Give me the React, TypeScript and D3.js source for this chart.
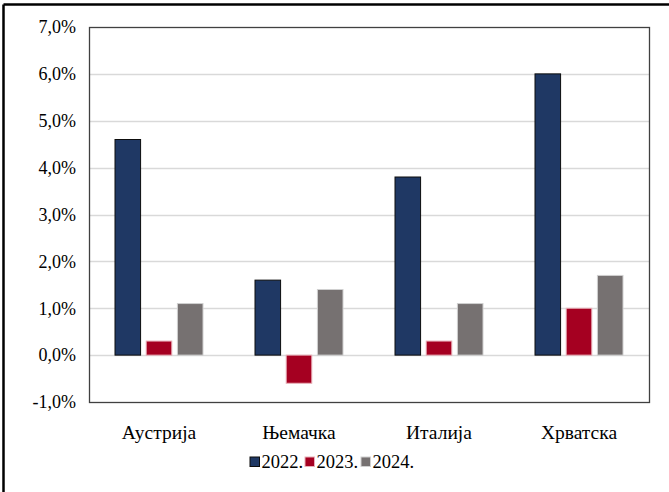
import React from "react";
import * as d3 from "d3";

const categories = ["Аустрија", "Њемачка", "Италија", "Хрватска"];
const seriesNames = ["2022.", "2023.", "2024."];
const values2022 = [4.6, 1.6, 3.8, 6.0];
const values2023 = [0.3, -0.6, 0.3, 1.0];
const values2024 = [1.1, 1.4, 1.1, 1.7];
const yTicks = [-1, 0, 1, 2, 3, 4, 5, 6, 7];

const colors = ["#1F3864", "#A50021", "#767171"];
const strokes = ["#0d0d0d", "#e8b0b8", "#d0d0d0"];

export default function App() {
  const W = 669, H = 492;
  const left = 89, right = 649, top = 27, bottom = 402;
  const x0 = d3.scaleBand<string>().domain(categories).range([left, right]);
  const x1 = d3.scaleBand<string>().domain(seriesNames).range([0, 88]).paddingInner(0.18);
  const y = d3.scaleLinear().domain([-1, 7]).range([bottom, top]);
  const series = [values2022, values2023, values2024];
  const font = "'Liberation Serif', 'Times New Roman', serif";
  const fmt = (v: number) => v.toFixed(1).replace(".", ",") + "%";

  return (
    <div style={{ position: "fixed", left: 0, top: 0, width: W, height: H, overflow: "hidden" }}>
      <svg width={W} height={H} style={{ display: "block" }}>
        <rect x={0} y={0} width={W} height={H} fill="#fff" />
        <line x1={3.5} y1={4.5} x2={W} y2={4.5} stroke="#000" strokeWidth={2.5} />
        <line x1={3.5} y1={4.5} x2={3.5} y2={H} stroke="#000" strokeWidth={2.5} />
        {yTicks.map((t) => (
          <g key={t}>
            {t !== -1 && t !== 7 && (
              <line x1={left} x2={right} y1={Math.round(y(t)) + 0.5} y2={Math.round(y(t)) + 0.5} stroke="#d9d9d9" strokeWidth={1.3} />
            )}
            <text x={76} y={y(t)} dy="0.35em" textAnchor="end" fontFamily={font} fontSize={18} fill="#000">
              {fmt(t)}
            </text>
          </g>
        ))}
        {categories.map((c, i) => (
          <g key={c} transform={`translate(${(x0(c) as number) + (x0.bandwidth() - 88) / 2},0)`}>
            {series.map((s, j) => {
              const v = s[i];
              const y0 = y(0), yv = y(v);
              return (
                <rect
                  key={j}
                  x={x1(seriesNames[j]) as number}
                  y={Math.min(y0, yv)}
                  width={x1.bandwidth()}
                  height={Math.abs(yv - y0)}
                  fill={colors[j]}
                  stroke={strokes[j]}
                  strokeWidth={1}
                />
              );
            })}
          </g>
        ))}
        <rect x={left + 0.5} y={top + 0.5} width={right - left} height={bottom - top} fill="none" stroke="#404040" strokeWidth={1.3} />
        {categories.map((c) => (
          <text key={c} x={(x0(c) as number) + x0.bandwidth() / 2} y={432} dy="0.35em" textAnchor="middle" fontFamily={font} fontSize={19.5} fill="#000">
            {c}
          </text>
        ))}
        {seriesNames.map((s, j) => {
          const lx = [250, 305, 361][j];
          return (
            <g key={s}>
              <rect x={lx} y={457} width={9.5} height={9.5} fill={colors[j]} stroke={strokes[j]} strokeWidth={1} />
              <text x={lx + 11.5} y={462} dy="0.35em" fontFamily={font} fontSize={18.5} fill="#000">
                {s}
              </text>
            </g>
          );
        })}
      </svg>
    </div>
  );
}
